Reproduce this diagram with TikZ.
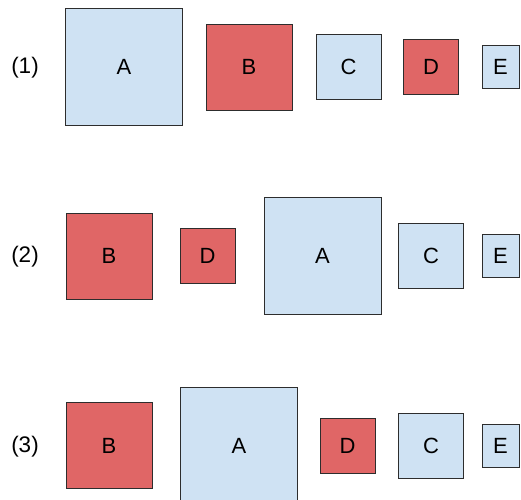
\documentclass[tikz,border=0pt]{standalone}
\usepackage{fontspec}
\setmainfont{Liberation Sans}
\definecolor{boxblue}{RGB}{207,226,243}
\definecolor{boxred}{RGB}{224,102,102}
\definecolor{boxline}{RGB}{45,45,45}

\begin{document}
\begin{tikzpicture}[x=1pt,y=-1pt,
    blk/.style={draw=boxline,line width=1pt,inner sep=0pt,font=\fontsize{22}{26}\selectfont},
    blu/.style={blk,fill=boxblue},
    rd/.style={blk,fill=boxred},
    rowlbl/.style={font=\fontsize{22.5}{26}\selectfont}]
    \useasboundingbox (0,0) rectangle (521,499);
    % row 1
    \node[rowlbl] (r1) at (25,68) {(1)};
    \node[blu,minimum size=117pt] (A1) at (124,67) {A};
    \node[rd,minimum size=86pt] (B1) at (249,67) {B};
    \node[blu,minimum size=65pt] (C1) at (348.5,67) {C};
    \node[rd,minimum size=55pt] (D1) at (431,67) {D};
    \node[blu,minimum width=37pt,minimum height=43pt] (E1) at (500.5,67) {E};
    % row 2
    \node[rowlbl] (r2) at (25,257) {(2)};
    \node[rd,minimum size=86pt] (B2) at (109,256) {B};
    \node[rd,minimum size=55pt] (D2) at (207.5,256) {D};
    \node[blu,minimum size=117pt] (A2) at (322.5,256) {A};
    \node[blu,minimum size=65pt] (C2) at (431,256) {C};
    \node[blu,minimum width=37pt,minimum height=43pt] (E2) at (500.5,256) {E};
    % row 3
    \node[rowlbl] (r3) at (25,446.5) {(3)};
    \node[rd,minimum size=86pt] (B3) at (109,445.5) {B};
    \node[blu,minimum size=117pt] (A3) at (239,445.5) {A};
    \node[rd,minimum size=55pt] (D3) at (347.5,445.5) {D};
    \node[blu,minimum size=65pt] (C3) at (431,445.5) {C};
    \node[blu,minimum width=37pt,minimum height=43pt] (E3) at (500.5,445.5) {E};
\end{tikzpicture}
\end{document}
